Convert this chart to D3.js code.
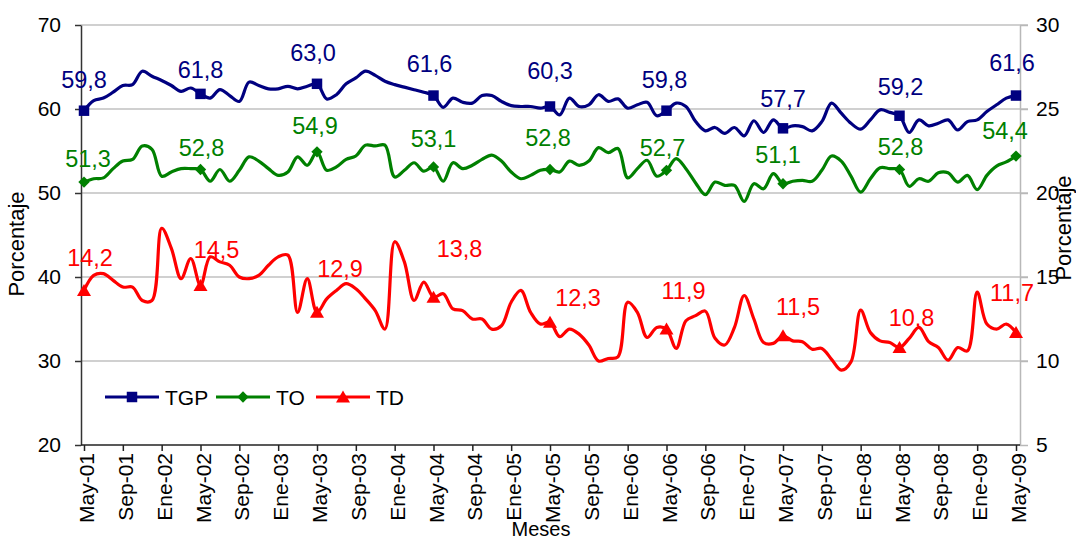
<!DOCTYPE html>
<html><head><meta charset="utf-8">
<script src="https://cdn.jsdelivr.net/npm/d3@7"></script>
<style>
html,body{margin:0;padding:0;background:#fff;}
svg{display:block;font-family:"Liberation Sans",Arial,sans-serif;}
</style></head>
<body>
<svg id="chart" width="1076" height="542"></svg>
<script>
// ---- data ----
const tickLabels = ["May-01","Sep-01","Ene-02","May-02","Sep-02","Ene-03","May-03","Sep-03","Ene-04","May-04","Sep-04","Ene-05","May-05","Sep-05","Ene-06","May-06","Sep-06","Ene-07","May-07","Sep-07","Ene-08","May-08","Sep-08","Ene-09","May-09"];
const seriesNames = ["TGP","TO","TD"];
const tgp = [59.8,61.0,61.3,62.0,62.8,62.9,64.5,63.9,63.4,62.8,62.1,62.5,61.8,61.3,62.3,61.6,60.9,63.2,62.8,62.4,62.4,62.7,62.4,62.7,63.0,
61.2,61.7,63.0,63.7,64.5,64.0,63.3,62.9,62.6,62.3,62.0,61.6,60.2,61.3,60.8,60.7,61.6,61.6,60.9,60.4,60.3,60.3,60.1,60.3,
59.3,61.3,60.3,60.5,61.7,60.9,61.2,60.1,60.5,60.8,59.2,59.8,60.7,60.3,58.5,57.4,57.8,57.1,57.8,56.8,58.6,57.2,58.7,57.7,
58.0,57.9,57.4,58.5,60.7,59.5,58.3,57.6,58.7,59.9,59.6,59.2,57.2,58.7,58.0,58.3,58.7,57.5,58.5,58.7,59.7,60.5,61.3,61.6];
const to = [51.3,51.7,51.8,52.9,53.8,54.0,55.6,55.2,52.0,52.5,52.9,52.9,52.8,51.4,52.8,51.4,52.7,54.3,53.8,52.9,52.1,52.5,54.3,53.3,54.9,
52.7,53.1,54.0,54.4,55.7,55.6,55.7,51.9,52.7,53.6,52.6,53.1,51.4,53.6,52.9,53.3,54.0,54.5,53.8,52.5,51.7,52.1,52.7,52.8,
52.5,53.8,53.3,53.8,55.4,54.8,55.3,51.8,52.9,53.9,52.0,52.7,54.1,52.9,51.2,49.8,51.3,50.9,50.9,49.0,51.1,50.5,52.3,51.1,
51.4,51.5,51.4,52.7,54.4,53.8,52.0,50.1,51.7,53.0,52.9,52.8,50.8,51.7,51.4,52.4,52.4,51.3,52.1,50.4,52.1,53.2,53.7,54.4];
const td = [14.2,15.1,15.2,14.8,14.4,14.4,13.6,13.6,17.9,16.7,14.9,16.1,14.5,16.2,15.9,15.7,15.0,14.9,15.1,15.7,16.2,16.3,12.9,14.9,12.9,
13.7,14.2,14.6,14.3,13.7,13.0,11.9,17.1,15.9,13.6,14.7,13.8,14.0,13.1,13.0,12.5,12.5,11.9,12.1,13.5,14.2,12.9,12.2,12.3,
11.45,11.9,11.6,10.95,10.0,10.15,10.25,13.5,12.9,11.4,12.0,11.9,10.75,12.4,12.7,12.97,11.35,10.95,12.0,13.9,12.5,11.1,11.05,11.5,
11.2,11.15,10.7,10.75,10.1,9.46,9.95,13.03,11.7,11.2,11.1,10.8,11.35,12.0,11.15,10.8,10.05,10.8,10.6,14.1,12.2,11.9,12.2,11.7];
const leftTicks = [20,30,40,50,60,70];
const rightTicks = [5,10,15,20,25,30];
// label nudges (px) for the May data labels
const labelDx = {TGP:[0,0,-4,-4,0,-2,0,1,-4], TO:[4,1,-2,0,-2,-4,-5,1,-11], TD:[6,16,23,26,28,17,15,12,-4]};
const labelDy = {TGP:[31,24,31,32,36,31,30,29,33], TO:[24,22,26,28,32,23,29,23,26], TD:[33,36,44,49,25,39,29,30,40]};

// ---- layout ----
const svg = d3.select("#chart");
const L = 81, R = 1020, T = 25, B = 445;
const x = d3.scaleLinear().domain([0,96]).range([84,1016]);
const yL = d3.scaleLinear().domain([20,70]).range([B,T]);
const yR = d3.scaleLinear().domain([5,30]).range([B,T]);
const colors = {TGP:"#000080", TO:"#008000", TD:"#ff0000"};
const font = '"Liberation Sans",Arial,sans-serif';

// gridlines
svg.append("g").selectAll("line").data(leftTicks.filter(d=>d>20)).join("line")
  .attr("x1",L).attr("x2",R+8).attr("y1",d=>yL(d)).attr("y2",d=>yL(d))
  .attr("stroke","#c0c0c0").attr("stroke-width",1.5);

// left axis
const gl = svg.append("g").attr("transform",`translate(${L},0)`)
  .call(d3.axisLeft(yL).tickValues(leftTicks).tickSize(6).tickSizeOuter(0).tickPadding(14));
gl.select(".domain").attr("stroke","#333").attr("stroke-width",1.5);
gl.selectAll(".tick line").attr("stroke","#333").attr("stroke-width",1.5);
gl.selectAll("text").attr("font-size",21).attr("font-family",font).attr("fill","#000");

// right axis
const gr = svg.append("g").attr("transform",`translate(${R},0)`)
  .call(d3.axisRight(yR).tickValues(rightTicks).tickSize(8).tickSizeOuter(0).tickPadding(8));
gr.select(".domain").attr("stroke","#b8b8b8").attr("stroke-width",1.5);
gr.selectAll(".tick line").attr("stroke","#b8b8b8").attr("stroke-width",1.5);
gr.selectAll("text").attr("font-size",21).attr("font-family",font).attr("fill","#000");

// bottom axis
const gb = svg.append("g").attr("transform",`translate(0,${B})`)
  .call(d3.axisBottom(x).tickValues(d3.range(0,97,4)).tickFormat((d,i)=>tickLabels[i]).tickSize(6).tickSizeOuter(0).tickPadding(6));
gb.select(".domain").attr("d",`M${L},0H${R}`).attr("stroke","#222").attr("stroke-width",1.5);
gb.selectAll(".tick line").attr("stroke","#222").attr("stroke-width",1.5);
gb.selectAll("text").attr("font-size",21).attr("font-family",font).attr("fill","#000")
  .attr("transform","rotate(-90)").attr("text-anchor","end")
  .attr("x",-8).attr("y",2).attr("dy","0.36em").attr("dx",0);

// axis titles
svg.append("text").attr("transform","translate(24,244) rotate(-90)").attr("text-anchor","middle")
  .attr("font-size",22).attr("font-family",font).text("Porcentaje");
svg.append("text").attr("transform","translate(1071,228) rotate(-90)").attr("text-anchor","middle")
  .attr("font-size",22).attr("font-family",font).text("Porcentaje");
svg.append("text").attr("x",541).attr("y",536).attr("text-anchor","middle")
  .attr("font-size",20).attr("font-family",font).text("Meses");

// series
const series = [
  {name:"TGP", values:tgp, y:yL},
  {name:"TO", values:to, y:yL},
  {name:"TD", values:td, y:yR}
];
const line = (s)=>d3.line().x((d,i)=>x(i)).y(d=>s.y(d)).curve(d3.curveCatmullRom.alpha(0.5));

const sq = d3.symbol().type(d3.symbolSquare).size(110)();
const dia = d3.symbol().type(d3.symbolSquare).size(64)();
const tri = "M0,-6.5L7,5.5L-7,5.5Z";
const markerPath = {TGP:sq, TO:dia, TD:tri};
const markerRot = {TGP:0, TO:45, TD:0};
const fmt = v => d3.format(".1f")(v).replace(".",",");
const mayIdx = d3.range(0,97,12);

for (const s of [series[2],series[1],series[0]]) {
  svg.append("path").datum(s.values).attr("d",line(s)).attr("fill","none")
    .attr("stroke",colors[s.name]).attr("stroke-width",3.2).attr("stroke-linejoin","round");
}
for (const s of series) {
  svg.append("g").selectAll("path").data(mayIdx).join("path")
    .attr("d",markerPath[s.name]).attr("fill",colors[s.name])
    .attr("transform",i=>`translate(${x(i)},${s.y(s.values[i])}) rotate(${markerRot[s.name]})`);
  svg.append("g").selectAll("text").data(mayIdx).join("text")
    .attr("x",(i,k)=>x(i)+labelDx[s.name][k])
    .attr("y",(i,k)=>s.y(s.values[i])-labelDy[s.name][k])
    .attr("dy","0.36em").attr("text-anchor","middle")
    .attr("font-size",23.5).attr("font-family",font).attr("fill",colors[s.name])
    .text(i=>fmt(s.values[i]));
}

// legend
const legX = [105,216,316];
const lg = svg.append("g");
series.forEach((s,k)=>{
  const x0 = legX[k], ly = 397;
  lg.append("line").attr("x1",x0).attr("x2",x0+54).attr("y1",ly).attr("y2",ly)
    .attr("stroke",colors[s.name]).attr("stroke-width",3.2);
  lg.append("path").attr("d",markerPath[s.name]).attr("fill",colors[s.name])
    .attr("transform",`translate(${x0+27},${ly}) rotate(${markerRot[s.name]})`);
  lg.append("text").attr("x",x0+60).attr("y",ly).attr("dy","0.36em")
    .attr("font-size",21).attr("font-family",font).text(s.name);
});
</script>
</body></html>
